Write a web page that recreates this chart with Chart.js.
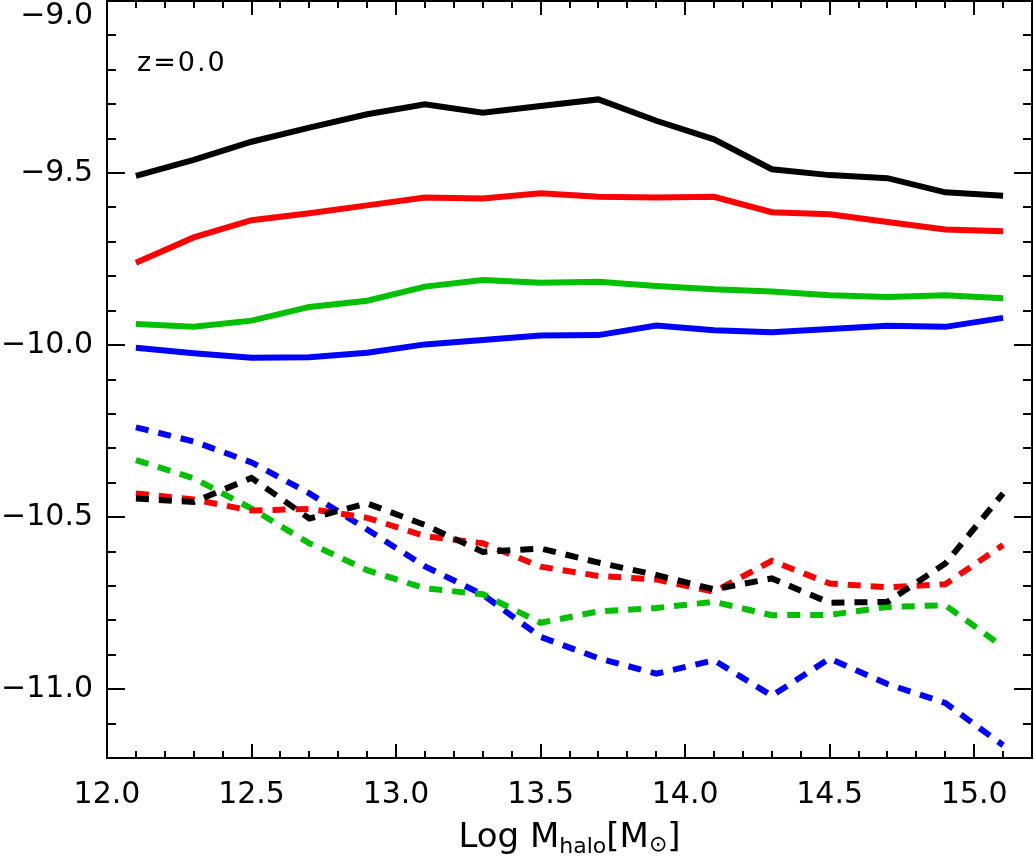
<!DOCTYPE html>
<html>
<head>
<meta charset="utf-8">
<script src="https://cdn.jsdelivr.net/npm/chart.js@4.4.1/dist/chart.umd.min.js"></script>
<style>
  html, body { margin: 0; padding: 0; background: #fff; }
  #wrap { width: 1034px; height: 856px; }
</style>
</head>
<body>
<div id="wrap"><canvas id="chart" width="1034" height="856"></canvas></div>
<script>
"use strict";

// Log halo mass bins (x) and the eight curves.
const LOG_MHALO = [12.1, 12.3, 12.5, 12.7, 12.9, 13.1, 13.3, 13.5,
  13.7, 13.9, 14.1, 14.3, 14.5, 14.7, 14.9, 15.1];

const SOLID_BLACK = [-9.508, -9.462, -9.409, -9.368, -9.329, -9.300, -9.325, -9.305,
  -9.286, -9.348, -9.402, -9.489, -9.506, -9.515, -9.556, -9.566];
const SOLID_RED = [-9.761, -9.687, -9.637, -9.617, -9.594, -9.571, -9.574, -9.559,
  -9.569, -9.571, -9.569, -9.614, -9.620, -9.642, -9.664, -9.669];
const SOLID_GREEN = [-9.939, -9.947, -9.929, -9.889, -9.871, -9.830, -9.811, -9.819,
  -9.816, -9.828, -9.838, -9.844, -9.855, -9.860, -9.855, -9.864];
const SOLID_BLUE = [-10.008, -10.024, -10.037, -10.035, -10.022, -9.998, -9.985, -9.972,
  -9.971, -9.943, -9.957, -9.963, -9.953, -9.944, -9.947, -9.921];

const DASH_BLACK = [-10.446, -10.456, -10.386, -10.504, -10.460, -10.523, -10.601, -10.591,
  -10.632, -10.668, -10.710, -10.678, -10.749, -10.746, -10.635, -10.431];
const DASH_RED = [-10.431, -10.449, -10.481, -10.476, -10.502, -10.555, -10.576, -10.644,
  -10.671, -10.681, -10.717, -10.627, -10.693, -10.704, -10.695, -10.581];
const DASH_GREEN = [-10.334, -10.387, -10.475, -10.576, -10.654, -10.707, -10.724, -10.807,
  -10.774, -10.764, -10.746, -10.785, -10.784, -10.761, -10.756, -10.877];
const DASH_BLUE = [-10.239, -10.280, -10.341, -10.431, -10.536, -10.643, -10.725, -10.848,
  -10.910, -10.955, -10.916, -11.019, -10.911, -10.985, -11.040, -11.163];

const X_TICKS = [12.0, 12.5, 13.0, 13.5, 14.0, 14.5, 15.0];
const Y_TICKS = [-11.0, -10.5, -10.0, -9.5, -9.0];
const X_RANGE = [12.0, 15.2];
const Y_RANGE = [-11.2, -9.0];
const PANEL_LABEL = "z=0.0";

const FONT = "'DejaVu Sans', sans-serif";

const $ = (id) => document.getElementById(id);

function pts(ys) {
  return LOG_MHALO.map((x, i) => ({ x, y: ys[i] }));
}

function line(data, color, dashed) {
  return {
    data: pts(data),
    borderColor: color,
    backgroundColor: color,
    borderWidth: 6,
    borderDash: dashed ? [13, 10] : [],
    borderCapStyle: "butt",
    borderJoinStyle: "miter",
    pointRadius: 0,
    tension: 0,
    fill: false,
  };
}

function fmtTick(v) {
  const s = Math.abs(v).toFixed(1);
  return v < 0 ? "\u2212" + s : s;
}

// Box, inward major/minor ticks on all four sides, panel label and x title.
const framePlugin = {
  id: "frame",
  afterDatasetsDraw(chart) {
    const { ctx, chartArea: a, scales: { x, y } } = chart;
    ctx.save();
    ctx.strokeStyle = "#000";
    ctx.lineWidth = 2;
    ctx.lineCap = "butt";
    ctx.strokeRect(a.left, a.top, a.right - a.left, a.bottom - a.top);

    ctx.beginPath();
    for (let i = 0; i <= 32; i++) {
      const v = X_RANGE[0] + i / 10;
      const major = X_TICKS.some((t) => Math.abs(t - v) < 1e-6);
      const len = major ? 14 : 7;
      const px = Math.round(x.getPixelForValue(v));
      ctx.moveTo(px, a.bottom); ctx.lineTo(px, a.bottom - len);
      ctx.moveTo(px, a.top); ctx.lineTo(px, a.top + len);
    }
    for (let i = 0; i <= 22; i++) {
      const v = Y_RANGE[0] + i / 10;
      const major = Y_TICKS.some((t) => Math.abs(t - v) < 1e-6);
      const len = major ? 18 : 9;
      const py = Math.round(y.getPixelForValue(v));
      ctx.moveTo(a.left, py); ctx.lineTo(a.left + len, py);
      ctx.moveTo(a.right, py); ctx.lineTo(a.right - len, py);
    }
    ctx.stroke();

    // panel label
    ctx.fillStyle = "#000";
    ctx.textBaseline = "alphabetic";
    ctx.textAlign = "left";
    ctx.font = "27px " + FONT;
    ctx.letterSpacing = "2px";
    ctx.fillText(PANEL_LABEL, a.left + 30, 71);
    ctx.letterSpacing = "0px";

    // x-axis title: Log M_halo [M_sun]
    const big = "34px " + FONT, small = "22px " + FONT;
    const parts = [
      { t: "Log M", f: big, dy: 0 },
      { t: "halo", f: small, dy: 6 },
      { t: "[M", f: big, dy: 0 },
      { t: "\u2299", f: small, dy: 4 },
      { t: "]", f: big, dy: 0 },
    ];
    let total = 0;
    parts.forEach((p) => { ctx.font = p.f; p.w = ctx.measureText(p.t).width; total += p.w; });
    let cx = (a.left + a.right) / 2 - total / 2;
    const base = 847;
    parts.forEach((p) => {
      ctx.font = p.f;
      ctx.fillText(p.t, cx, base + p.dy);
      cx += p.w;
    });
    ctx.restore();
  },
};

const datasets = [
  line(SOLID_BLACK, "#000000", false),
  line(SOLID_RED, "#ff0000", false),
  line(SOLID_GREEN, "#00c000", false),
  line(SOLID_BLUE, "#0000ff", false),
  line(DASH_BLACK, "#000000", true),
  line(DASH_RED, "#ff0000", true),
  line(DASH_GREEN, "#00c000", true),
  line(DASH_BLUE, "#0000ff", true),
];

new Chart($("chart"), {
  type: "line",
  data: { datasets },
  options: {
    responsive: false,
    devicePixelRatio: 1,
    animation: false,
    layout: { padding: { top: 1, right: 2, left: 0, bottom: 0 } },
    plugins: { legend: { display: false }, tooltip: { enabled: false } },
    scales: {
      x: {
        type: "linear",
        min: X_RANGE[0],
        max: X_RANGE[1],
        afterBuildTicks: (s) => { s.ticks = X_TICKS.map((v) => ({ value: v })); },
        afterFit: (s) => { s.height = 98; s.paddingLeft = 0; s.paddingRight = 0; },
        grid: { display: false, drawTicks: false },
        border: { display: false },
        ticks: {
          autoSkip: false,
          maxRotation: 0,
          padding: 19,
          color: "#000",
          font: { family: FONT, size: 30 },
          callback: (v) => fmtTick(v),
        },
      },
      y: {
        type: "linear",
        min: Y_RANGE[0],
        max: Y_RANGE[1],
        afterBuildTicks: (s) => { s.ticks = Y_TICKS.map((v) => ({ value: v })); },
        afterFit: (s) => { s.width = 107; s.paddingTop = 0; s.paddingBottom = 0; },
        grid: { display: false, drawTicks: false },
        border: { display: false },
        ticks: {
          padding: 14,
          color: "#000",
          font: { family: FONT, size: 30, lineHeight: 1.0 },
          // the top label sits just below the frame, as in the original
          callback: (v) => (Math.abs(v - Y_RANGE[1]) < 1e-6 ? ["", fmtTick(v)] : fmtTick(v)),
        },
      },
    },
  },
  plugins: [framePlugin],
});
</script>
</body>
</html>
